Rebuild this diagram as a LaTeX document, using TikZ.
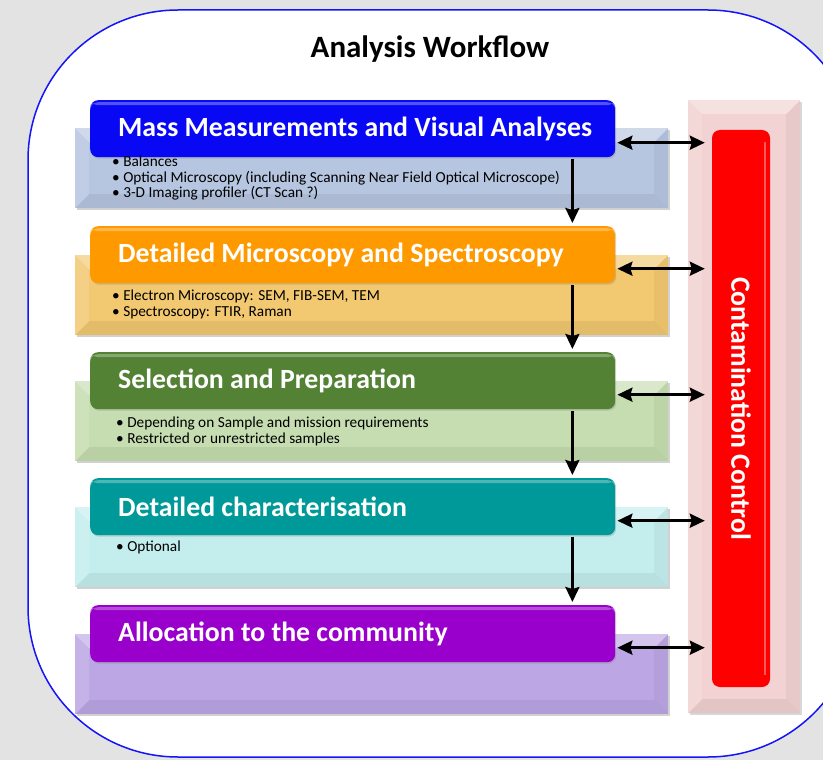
\documentclass[tikz,border=0pt]{standalone}
\usepackage{fontspec}
\setmainfont{Carlito}
\usetikzlibrary{positioning,shadows,arrows.meta}
\definecolor{frameblue}{RGB}{20,20,250}
\definecolor{massblue}{RGB}{8,8,245}
\definecolor{massback}{RGB}{182,197,224}
\definecolor{microorange}{RGB}{255,153,0}
\definecolor{microback}{RGB}{242,200,112}
\definecolor{selgreen}{RGB}{84,130,53}
\definecolor{selback}{RGB}{197,221,176}
\definecolor{charteal}{RGB}{0,153,153}
\definecolor{charback}{RGB}{196,238,238}
\definecolor{allocpurple}{RGB}{153,0,204}
\definecolor{allocback}{RGB}{188,166,228}
\definecolor{ccpink}{RGB}{242,210,210}
\definecolor{ccred}{RGB}{255,0,0}

\begin{document}
\begin{tikzpicture}[x=1pt,y=-1pt,
  bevel/.style={path picture={
    \path (path picture bounding box.north west) coordinate (bnw)
          (path picture bounding box.north east) coordinate (bne)
          (path picture bounding box.south west) coordinate (bsw)
          (path picture bounding box.south east) coordinate (bse);
    \fill[white,opacity=.35] (bnw) -- (bne) -- ([shift={(-14pt,-14pt)}]bne) -- ([shift={(14pt,-14pt)}]bnw) -- cycle;
    \fill[black,opacity=.06] (bsw) -- (bse) -- ([shift={(-14pt,14pt)}]bse) -- ([shift={(14pt,14pt)}]bsw) -- cycle;
    \fill[white,opacity=.15] (bnw) -- ([shift={(14pt,-14pt)}]bnw) -- ([shift={(14pt,14pt)}]bsw) -- (bsw) -- cycle;
    \fill[black,opacity=.04] (bne) -- ([shift={(-14pt,-14pt)}]bne) -- ([shift={(-14pt,14pt)}]bse) -- (bse) -- cycle;
  }},
  backbox/.style={anchor=north west, minimum width=593pt, minimum height=80pt, inner sep=0,
    drop shadow={shadow xshift=1.5pt, shadow yshift=-2pt, opacity=.35}, bevel},
  headbox/.style={anchor=north west, minimum width=525pt, minimum height=57pt, inner sep=0,
    rounded corners=8pt, drop shadow={shadow xshift=1pt, shadow yshift=-1.5pt, opacity=.3},
    path picture={\fill[white,opacity=.3] ([yshift=-2pt]path picture bounding box.north west)
      rectangle ([yshift=-5pt]path picture bounding box.north east);}},
  headtxt/.style={text=white, inner sep=0, font=\fontsize{27.8}{32}\selectfont\bfseries},
  bullets/.style={anchor=north west, inner sep=0, align=left, font=\fontsize{15.3}{15.5}\selectfont},
  downarrow/.style={line width=2.8pt, -{Stealth[length=15pt,width=14pt,inset=2pt]}},
  dblarrow/.style={line width=2.8pt, {Stealth[length=15pt,width=14pt,inset=2pt]}-{Stealth[length=15pt,width=14pt,inset=2pt]},
    shorten <=2pt, shorten >=7pt}]

\useasboundingbox (0,0) rectangle (823,760);
\clip (0,0) rectangle (823,760);
\fill[gray!22] (0,0) rectangle (823,760);
\draw[frameblue, line width=1.5pt, fill=white, rounded corners=150pt] (28,10) rectangle (858,757);

\node[font=\fontsize{31}{36}\selectfont\bfseries] (title) at (430,49) {Analysis Workflow};

% contamination control bar
\node[bevel, fill=ccpink, anchor=north west, minimum width=112pt, minimum height=613pt, inner sep=0,
      drop shadow={shadow xshift=1.5pt, shadow yshift=-2pt, opacity=.3}] (ccback) at (688,100) {};
\node[fill=ccred, rounded corners=8pt, rotate=-90, minimum width=557pt, minimum height=58pt, inner sep=0,
      text=white, font=\fontsize{27.8}{32}\selectfont\bfseries] (cc) at (741,408.5) {Contamination Control};
\draw[white, opacity=.35, line width=2pt] ([shift={(-5pt,-12pt)}]cc.north west) -- ([shift={(-5pt,12pt)}]cc.north east);

% back boxes
\node[backbox, fill=massback]  (b1) at (75,128) {};
\node[backbox, fill=microback] (b2) at (75,255) {};
\node[backbox, fill=selback]   (b3) at (75,381) {};
\node[backbox, fill=charback]  (b4) at (75,507) {};
\node[backbox, fill=allocback] (b5) at (75,634) {};

% headers
\node[headbox, fill=massblue]    (h1) at (90,100) {};
\node[headbox, fill=microorange] (h2) at (90,226) {};
\node[headbox, fill=selgreen]    (h3) at (90,352) {};
\node[headbox, fill=charteal]    (h4) at (90,478) {};
\node[headbox, fill=allocpurple] (h5) at (90,605) {};

\node[headtxt, right=28pt of h1.west] (t1) {Mass Measurements and Visual Analyses};
\node[headtxt, right=28pt of h2.west] (t2) {Detailed Microscopy and Spectroscopy};
\node[headtxt, right=28pt of h3.west] (t3) {Selection and Preparation};
\node[headtxt, right=28pt of h4.west] (t4) {Detailed characterisation};
\node[headtxt, right=28pt of h5.west] (t5) {Allocation to the community};

\node[bullets] (l1) at (112,156) {• Balances\\• Optical Microscopy (including Scanning Near Field Optical Microscope)\\• 3-D Imaging profiler (CT Scan ?)};
\node[bullets] (l2) at (112,290) {• Electron Microscopy: SEM, FIB-SEM, TEM\\• Spectroscopy: FTIR, Raman};
\node[bullets] (l3) at (116,417) {• Depending on Sample and mission requirements\\• Restricted or unrestricted samples};
\node[bullets] (l4) at (116,541) {• Optional};

% arrows
\foreach \i/\j in {1/2,2/3,3/4,4/5}
  \draw[downarrow] ([xshift=-43pt,yshift=-2pt]h\i.south east) -- ([xshift=-43pt,yshift=3pt]h\j.north east);
\foreach \i in {1,...,5}
  \draw[dblarrow] ([yshift=-14pt]h\i.east) -- ([yshift=-14pt]h\i.east -| cc.south);

\end{tikzpicture}
\end{document}
